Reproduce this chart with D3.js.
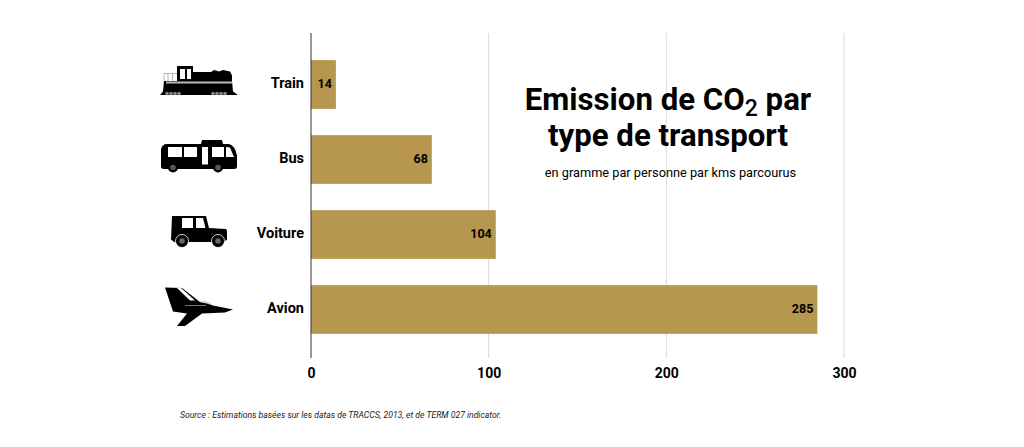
<!DOCTYPE html>
<html>
<head>
<meta charset="utf-8">
<script src="https://cdnjs.cloudflare.com/ajax/libs/d3/7.8.5/d3.min.js"></script>
<style>
    html, body { margin: 0; padding: 0; background: #fff; }
    text { font-family: Roboto, sans-serif; fill: #000; }
</style>
</head>
<body>
<div id="chart"></div>
<script>
const categories = ['Train', 'Bus', 'Voiture', 'Avion'];
const values = [14, 68, 104, 285];
const xTicks = [0, 100, 200, 300];
const titleLine2 = 'type de transport';
const subtitle = 'en gramme par personne par kms parcourus';
const source = 'Source : Estimations basées sur les datas de TRACCS, 2013, et de TERM 027 indicator.';

const width = 1024, height = 447;

const svg = d3.select('#chart').append('svg')
    .attr('width', width)
    .attr('height', height)
    .style('display', 'block');

const xScale = d3.scaleLinear().domain([0, 300]).range([311, 844]);
const yScale = d3.scaleBand().domain(categories).range([47, 347]).paddingInner(0.35).paddingOuter(0.175);

// gridlines
svg.append('g').selectAll('line')
    .data(xTicks.slice(1))
    .join('line')
    .attr('x1', d => xScale(d)).attr('x2', d => xScale(d))
    .attr('y1', 33).attr('y2', 358)
    .attr('stroke', '#d9d9d9')
    .attr('stroke-width', 1);

// bars
svg.append('g').selectAll('rect')
    .data(values)
    .join('rect')
    .attr('x', xScale(0))
    .attr('y', (d, i) => yScale(categories[i]))
    .attr('width', d => xScale(d) - xScale(0))
    .attr('height', yScale.bandwidth())
    .attr('fill', '#b7964f');

// value labels
svg.append('g').selectAll('text')
    .data(values)
    .join('text')
    .attr('x', d => xScale(d) - 4)
    .attr('y', (d, i) => yScale(categories[i]) + yScale.bandwidth() / 2 + 3.5)
    .attr('text-anchor', 'end')
    .style('font-size', '12.5px')
    .style('font-weight', 700)
    .text(d => d);

// zero axis
svg.append('line')
    .attr('x1', xScale(0)).attr('x2', xScale(0))
    .attr('y1', 33).attr('y2', 358)
    .attr('stroke', '#333')
    .attr('stroke-width', 1);

// x axis labels
const xAxis = svg.append('g')
    .attr('transform', 'translate(0,358)')
    .call(d3.axisBottom(xScale).tickValues(xTicks).tickSize(0).tickPadding(10));
xAxis.select('.domain').remove();
xAxis.selectAll('text')
    .style('font-family', 'Roboto, sans-serif')
    .style('font-size', '14px')
    .style('font-weight', 700)
    .style('fill', '#000');

// category labels
svg.append('g').selectAll('text')
    .data(categories)
    .join('text')
    .attr('x', 304)
    .attr('y', d => yScale(d) + yScale.bandwidth() / 2 + 3.5)
    .attr('text-anchor', 'end')
    .style('font-size', '14.5px')
    .style('font-weight', 700)
    .text(d => d);

// icons, each drawn around the centre of its row
function trainIcon(g) {
    g.append('path').attr('d', 'M-39,10.5 L-36,7 L-35,-3.5 L-22,-3.5 L-22,-18.5 L-6,-18.5 L-6,-12.5 L12,-12.5 L15,-14.5 L20,-13 L24,-14.5 L31,-13 L33,-9 L33,-3.5 L34,7 L39,10.5 Z');
    g.append('path').attr('fill', '#fff').attr('d', 'M-19,-15.5 h5 v10 h-5 Z M-12,-15.5 h4 v10 h-4 Z');
    g.append('path').attr('fill', '#bbb').attr('d', 'M-33,-3 L33,-3 L33,-1 L-33,-1 Z');
    g.append('path').attr('fill', 'none').attr('stroke', '#999').attr('stroke-width', 0.7).attr('d', 'M-22,-11 H-35 V-3.5 M-31,-11 V-3.5 M-26.5,-11 V-3.5');
    [-32, -28, -24, -20, 14, 18, 22, 26].forEach(x => g.append('circle').attr('cx', x).attr('cy', 9).attr('r', 1.8).attr('fill', '#888'));
}

function busIcon(g) {
    g.append('path').attr('d', 'M-38,-10 Q-37,-15.5 -32,-15.5 L2,-15.5 L3,-19.5 L23,-19.5 L24,-15.5 L30,-15.5 Q36,-14 38,-4 L38,7 Q38,9.5 35,9.5 L-35,9.5 Q-38,9.5 -38,7 Z');
    g.append('path').attr('fill', '#fff').attr('d', 'M-31,-12.5 h14 v10 h-14 Z M-15,-12.5 h13 v10 h-13 Z M3,-12.5 h6 v17.5 h-6 Z M13,-12.5 h12 v10 h-12 Z M27,-12.5 L31,-12 L35,-2.5 L27,-2.5 Z');
    [-26, 19].forEach(x => {
        g.append('circle').attr('cx', x).attr('cy', 8).attr('r', 5).attr('fill', '#000');
        g.append('circle').attr('cx', x).attr('cy', 8).attr('r', 2.8).attr('fill', '#555');
    });
}

function carIcon(g) {
    g.append('path').attr('d', 'M-27,-18.5 L7,-18.5 L10,-6.5 L27,-5.5 Q28,-5 28,-3 L28,5 L25,7.5 L-25,7.5 L-28,5 L-27,-18.5 Z');
    g.append('path').attr('fill', '#fff').attr('d', 'M-17,-16.5 h11 v10 h-11 Z M-3,-16.5 h7 L6.5,-6.5 H-3 Z');
    [-17, 19].forEach(x => {
        g.append('circle').attr('cx', x).attr('cy', 6.5).attr('r', 6.5).attr('fill', '#000').attr('stroke', '#fff').attr('stroke-width', 0.8);
        g.append('circle').attr('cx', x).attr('cy', 6.5).attr('r', 2.8).attr('fill', '#666');
    });
}

function planeIcon(g) {
    g.append('path').attr('d', 'M-34,-22 L-17,-21.5 L1,-7.5 L8,-6 L14,-4 L24,-2 L34,0 L26,3 L3,4 L-14,16.5 L-22,16.5 L-12,4 L-26,2 L-30,-10 Z');
    g.append('path').attr('fill', '#fff').attr('d', 'M-22,-21.5 L-18,-21.5 L-4,-9 L-9,-9 Z');
    g.append('path').attr('fill', 'none').attr('stroke', '#aaa').attr('stroke-width', 0.7).attr('d', 'M-14,-4 H7 M1,-7.5 Q8,-9 14,-4');
}

const iconFns = { Train: trainIcon, Bus: busIcon, Voiture: carIcon, Avion: planeIcon };

categories.forEach(c => {
    const g = svg.append('g')
        .attr('fill', '#000')
        .attr('transform', `translate(199,${yScale(c) + yScale.bandwidth() / 2})`);
    iconFns[c](g);
});

// title block
const title1 = svg.append('text')
    .attr('x', 668).attr('y', 109.5)
    .attr('text-anchor', 'middle')
    .style('font-size', '31.2px')
    .style('font-weight', 700);
title1.append('tspan').text('Emission de CO');
title1.append('tspan').attr('dy', 6).style('font-size', '23px').style('font-weight', 500).text('2');
title1.append('tspan').attr('dy', -6).text(' par');

svg.append('text')
    .attr('x', 668).attr('y', 145.5)
    .attr('text-anchor', 'middle')
    .style('font-size', '31.2px')
    .style('font-weight', 700)
    .text(titleLine2);

svg.append('text')
    .attr('x', 670.5).attr('y', 177)
    .attr('text-anchor', 'middle')
    .style('font-size', '12.75px')
    .text(subtitle);

svg.append('text')
    .attr('x', 180).attr('y', 418)
    .style('font-size', '8.65px')
    .style('font-style', 'italic')
    .style('fill', '#222')
    .text(source);
</script>
</body>
</html>
